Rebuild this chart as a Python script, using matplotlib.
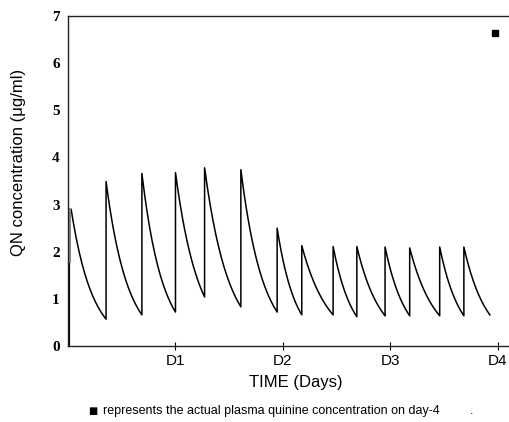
import numpy as np
import matplotlib
matplotlib.use("Agg")
import matplotlib.pyplot as plt

# Data (hours from first dose; concentrations in ug/ml)
dose_hours = [0.3, 8.5, 16.5, 24.0, 30.5, 38.6, 46.7, 52.2, 59.2, 64.5, 70.8, 76.3, 83.0, 88.4]
end_hour = 94.2
peaks = [2.9, 3.49, 3.66, 3.68, 3.78, 3.74, 2.5, 2.13, 2.11, 2.11, 2.1, 2.08, 2.1, 2.1]
troughs = [0.57, 0.66, 0.72, 1.04, 0.83, 0.72, 0.66, 0.66, 0.62, 0.64, 0.64, 0.64, 0.64, 0.66]
first_peak_hour = 0.7
actual_time = [95.3]
actual_conc = [6.63]
xtick_pos = [24, 48, 72, 96]
xtick_labels = ["D1", "D2", "D3", "D4"]
ytick_vals = [0, 1, 2, 3, 4, 5, 6, 7]

fig = plt.figure(figsize=(5.1, 4.22), dpi=100)
ax = fig.add_axes([68/510, 1-346/422, 1-68/510, (346-16)/422])

# Concentration-time curve: jump at each dose, exponential decay to trough
starts = [first_peak_hour] + dose_hours[1:]
ends = dose_hours[1:] + [end_hour]
xs = [dose_hours[0], dose_hours[0]]
ys = [0.0, peaks[0]]
for t0, t1, p, tr in zip(starts, ends, peaks, troughs):
    tt = np.linspace(t0, t1, 40)
    k = np.log(p / tr) / (t1 - t0)
    cc = p * np.exp(-k * (tt - t0))
    xs.extend(tt.tolist())
    ys.extend(cc.tolist())
ax.plot(xs, ys, color="black", lw=1.1)
ax.plot([dose_hours[0], dose_hours[0]], [1.8, peaks[0]], color="#888888", lw=2.2)

ax.plot(actual_time, actual_conc, marker="s", color="black", ms=4.5, ls="none")

ax.set_xlim(0, 98.7)
ax.set_ylim(0, 7)
ax.spines["right"].set_visible(False)
for s in ["left", "top", "bottom"]:
    ax.spines[s].set_linewidth(1.0)
    ax.spines[s].set_color("#222222")

ax.set_yticks(ytick_vals)
ax.set_yticklabels([str(v) for v in ytick_vals], fontfamily="Liberation Serif",
                   fontweight="bold", fontsize=11)
ax.tick_params(axis="y", length=0, pad=6)
ax.set_xticks(xtick_pos)
ax.set_xticklabels(xtick_labels, fontfamily="Liberation Sans", fontsize=11)
ax.tick_params(axis="x", direction="inout", length=6, width=0.8, pad=3)

fig.text(19/510, 1-162/422, "QN concentration (μg/ml)", fontfamily="Liberation Sans",
         fontsize=12, rotation=90, ha="center", va="center")
fig.text(296/510, 1-382/422, "TIME (Days)", fontfamily="Liberation Sans",
         fontsize=12, ha="center", va="center")

fig.text(88/510, 1-411/422, "■", fontfamily="DejaVu Sans", fontsize=7, va="center", ha="left")
fig.text(103/510, 1-411/422, "represents the actual plasma quinine concentration on day-4",
         fontfamily="Liberation Sans", fontsize=9, va="center", ha="left")
fig.text(470/510, 1-411/422, ".", fontfamily="Liberation Sans", fontsize=9, va="center", ha="left")

fig.savefig("out.png", dpi=100)
